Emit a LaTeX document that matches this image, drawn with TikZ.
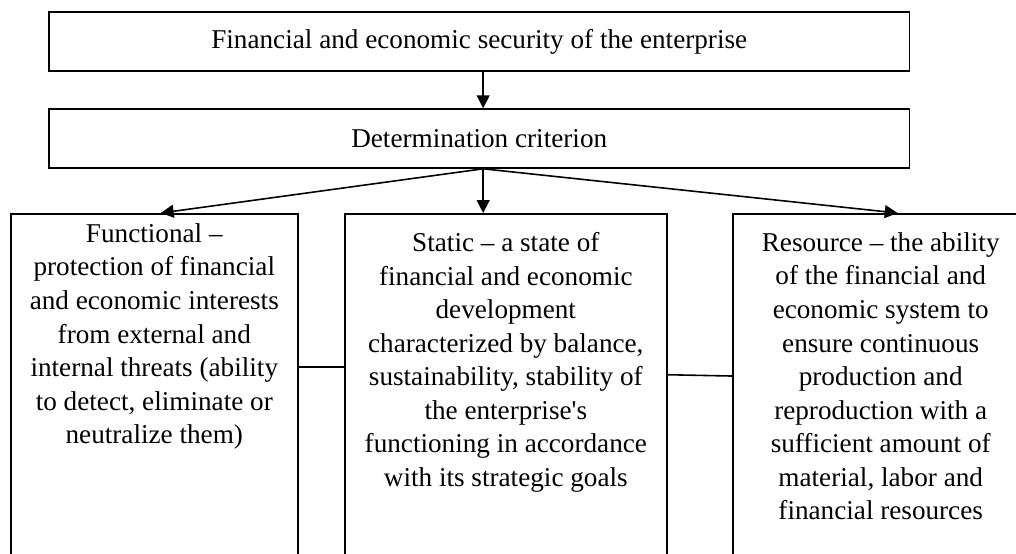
\documentclass[tikz,border=0pt]{standalone}
\usepackage{fontspec}
\setmainfont{Liberation Serif}
\usetikzlibrary{arrows.meta}
\tikzstyle{arrow} = [line width=0.8pt,-{Triangle[length=6.5pt,width=6.5pt]}]

\begin{document}
\begin{tikzpicture}
        [
            box/.style={rectangle,draw=black,line width=0.8pt,inner sep=0pt},
            txt/.style={align=center,inner sep=0pt,font=\fontsize{13.7pt}{16.9pt}\selectfont},
        ]
    \useasboundingbox (0,0) rectangle (18,-9.815);
    \clip (0,0) rectangle (18,-9.815);

    % the two header boxes
    \node [box,txt,minimum width=15.24cm,minimum height=1.045cm] (sec) at (8.49,-0.735)
        {Financial and economic security of the enterprise};
    \node [box,txt,minimum width=15.24cm,minimum height=1.045cm] (crit) at (8.49,-2.454)
        {Determination criterion};

    % the three criteria, open at the bottom of the page
    \node [box,minimum width=5.085cm,minimum height=8cm,anchor=north west] (func) at (0.177,-3.774){};
    \node [box,minimum width=5.705cm,minimum height=8cm,anchor=north west] (stat) at (6.095,-3.774){};
    \node [box,minimum width=5.24cm,minimum height=8cm,anchor=north west] (res) at (12.969,-3.774){};

    \node [txt,anchor=north] (functxt) at ([yshift=-0.18cm]func.north)
        {Functional --\\protection of financial\\and economic interests\\from external and\\internal threats (ability\\to detect, eliminate or\\neutralize them)};
    \node [txt,anchor=north] (stattxt) at ([yshift=-0.34cm]stat.north)
        {Static -- a state of\\financial and economic\\development\\characterized by balance,\\sustainability, stability of\\the enterprise\textquotesingle s\\functioning in accordance\\with its strategic goals};
    \node [txt,anchor=north] (restxt) at ([yshift=-0.34cm]res.north)
        {Resource -- the ability\\of the financial and\\economic system to\\ensure continuous\\production and\\reproduction with a\\sufficient amount of\\material, labor and\\financial resources};

    % arrows
    \coordinate (hub) at ([xshift=0.07cm]crit.south);
    \draw [arrow] ([xshift=0.07cm]sec.south) -- ([xshift=0.07cm]crit.north);
    \draw [arrow] (hub) -- ([xshift=0.115cm]func.north);
    \draw [arrow] (hub) -- (hub |- stat.north);
    \draw [arrow] (hub) -- ([xshift=0.3cm]res.north);

    % side links
    \draw [line width=0.8pt] ([yshift=-2.728cm]func.north east) -- ([yshift=-2.728cm]stat.north west);
    \draw [line width=0.8pt] ([yshift=-2.865cm]stat.north east) -- ([yshift=-2.888cm]res.north west);
\end{tikzpicture}
\end{document}
